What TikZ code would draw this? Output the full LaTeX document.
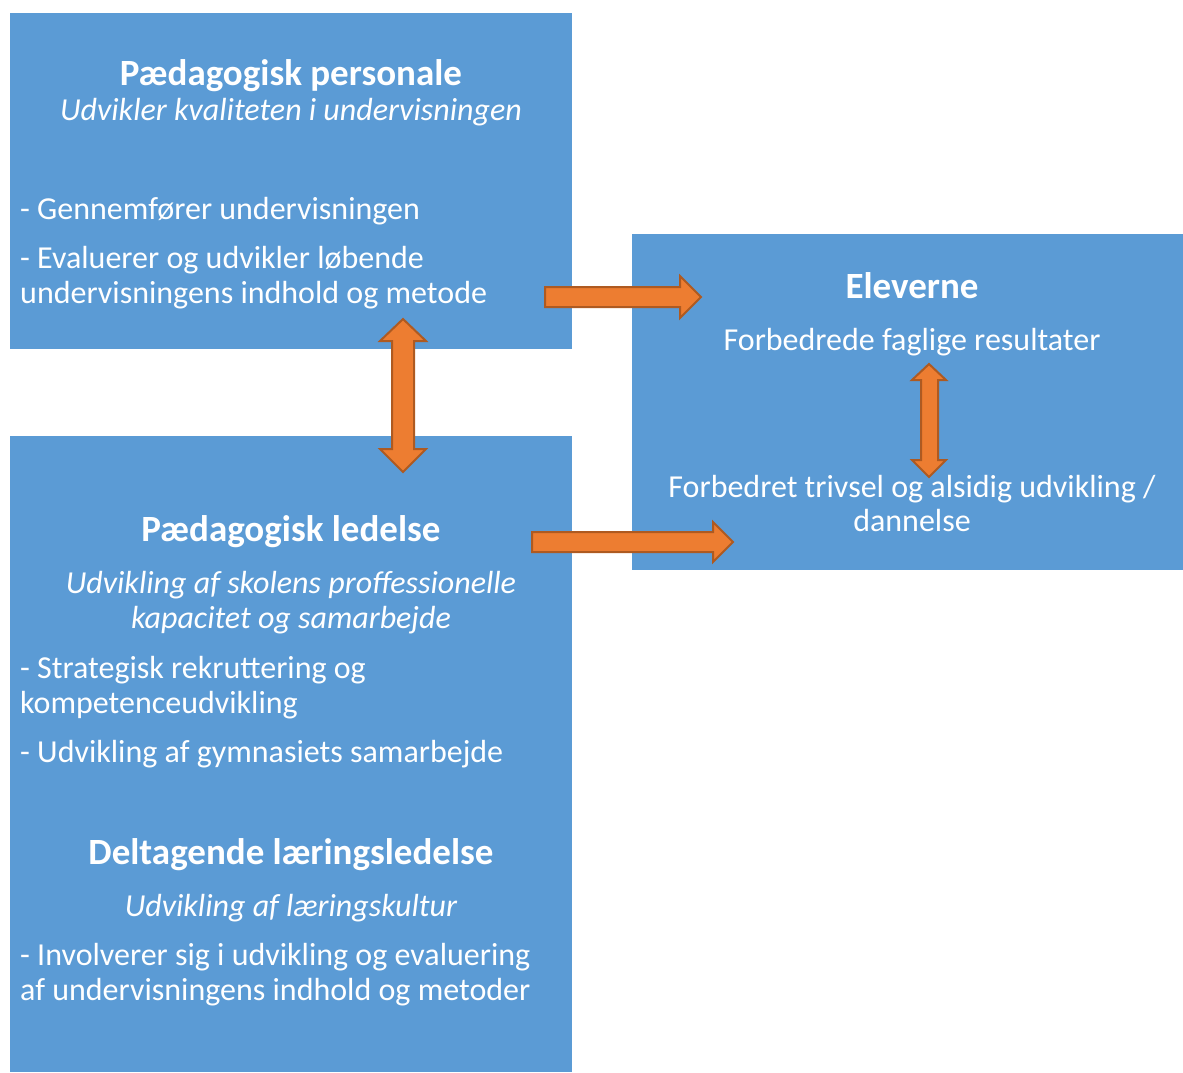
\documentclass[tikz,border=0pt]{standalone}
\usepackage{fontspec}
\setmainfont{Carlito}
\definecolor{boxblue}{HTML}{5B9BD5}
\definecolor{arrfill}{HTML}{ED7D31}
\definecolor{arrline}{HTML}{AE5A21}
\begin{document}
\begin{tikzpicture}[x=1pt,y=-1pt,
  panel/.style={fill=boxblue, draw=none},
  bodytxt/.style={text=white, inner sep=0pt, font=\fontsize{32}{35}\selectfont},
  headtxt/.style={text=white, inner sep=0pt, font=\fontsize{37}{40}\selectfont\bfseries},
  blockarrow/.style={fill=arrfill, draw=arrline, line width=2pt, line join=miter}]
\useasboundingbox (0,0) rectangle (1183,1072);
% panels
\node[panel, minimum width=562pt, minimum height=336pt, anchor=north west, inner sep=0pt] (pp) at (10,13) {};
\node[panel, minimum width=562pt, minimum height=636pt, anchor=north west, inner sep=0pt] (pl) at (10,436) {};
\node[panel, minimum width=551pt, minimum height=336pt, anchor=north west, inner sep=0pt] (el) at (632,234) {};
% box 1 text
\node[headtxt, anchor=base] (t1) at (291,85) {Pædagogisk personale};
\node[bodytxt, anchor=base] (t2) at (291,120) {\itshape Udvikler kvaliteten i undervisningen};
\node[bodytxt, anchor=base west] (t3) at (20,219) {- Gennemfører undervisningen};
\node[bodytxt, anchor=base west] (t4) at (20,268) {- Evaluerer og udvikler løbende};
\node[bodytxt, anchor=base west] (t5) at (20,303) {undervisningens indhold og metode};
% box 2 text
\node[headtxt, anchor=base] (u1) at (291,541) {Pædagogisk ledelse};
\node[bodytxt, anchor=base] (u2) at (291,593) {\itshape Udvikling af skolens proffessionelle};
\node[bodytxt, anchor=base] (u3) at (291,628) {\itshape kapacitet og samarbejde};
\node[bodytxt, anchor=base west] (u4) at (20,678) {- Strategisk rekruttering og};
\node[bodytxt, anchor=base west] (u5) at (20,713) {kompetenceudvikling};
\node[bodytxt, anchor=base west] (u6) at (20,762) {- Udvikling af gymnasiets samarbejde};
\node[headtxt, anchor=base] (u7) at (291,864) {Deltagende læringsledelse};
\node[bodytxt, anchor=base] (u8) at (291,916) {\itshape Udvikling af læringskultur};
\node[bodytxt, anchor=base west] (u9) at (20,965) {- Involverer sig i udvikling og evaluering};
\node[bodytxt, anchor=base west] (u10) at (20,1000) {af undervisningens indhold og metoder};
% box 3 text
\node[headtxt, anchor=base] (e1) at (912,298) {Eleverne};
\node[bodytxt, anchor=base] (e2) at (912,350) {Forbedrede faglige resultater};
\node[bodytxt, anchor=base] (e3) at (912,497) {Forbedret trivsel og alsidig udvikling /};
\node[bodytxt, anchor=base] (e4) at (912,531) {dannelse};
% block arrows
\draw[blockarrow] (545,287) -- (680,287) -- (680,276) -- (701,297) -- (680,318) -- (680,307) -- (545,307) -- cycle;
\draw[blockarrow] (532,532) -- (713,532) -- (713,522) -- (733,542) -- (713,562) -- (713,552) -- (532,552) -- cycle;
\draw[blockarrow] (403,319) -- (426,341) -- (414,341) -- (414,449) -- (426,449) -- (403,472) -- (380,449) -- (392,449) -- (392,341) -- (380,341) -- cycle;
\draw[blockarrow] (929,364) -- (946,380) -- (938,380) -- (938,460) -- (946,460) -- (929,477) -- (912,460) -- (921,460) -- (921,380) -- (912,380) -- cycle;
\end{tikzpicture}
\end{document}
